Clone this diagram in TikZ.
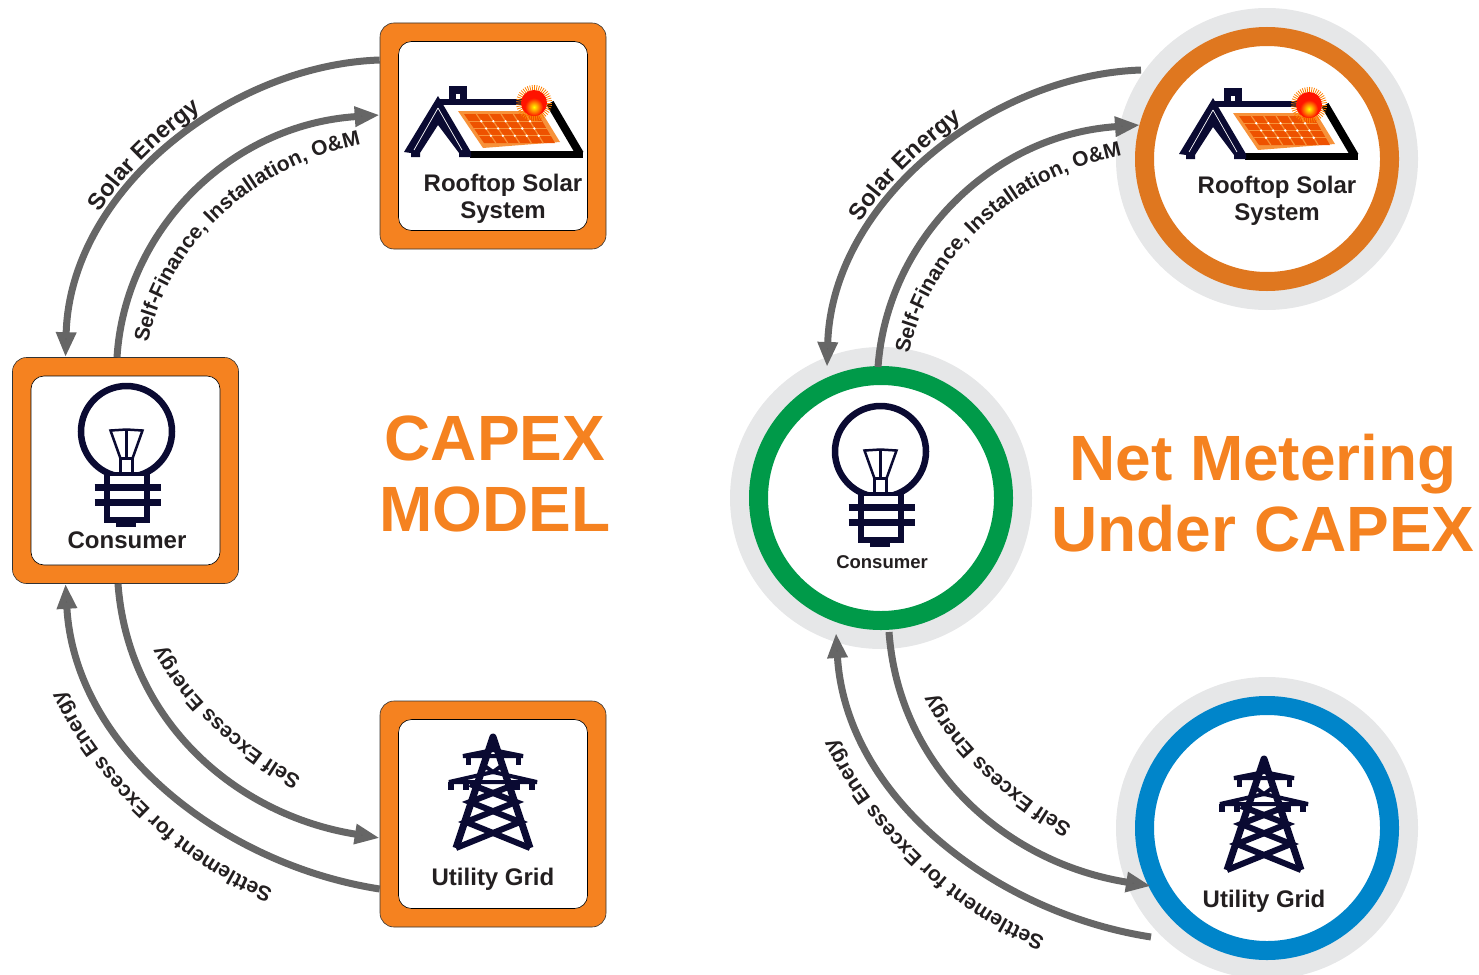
\documentclass[tikz,border=0pt]{standalone}
\usepackage{fontspec}
\setmainfont{Liberation Sans}
\usetikzlibrary{arrows.meta,decorations.text}
\definecolor{boxorange}{HTML}{F58220}
\definecolor{ringorange}{HTML}{DF771F}
\definecolor{ringgreen}{HTML}{009A49}
\definecolor{ringblue}{HTML}{0085CA}
\definecolor{halogray}{HTML}{E6E7E8}
\definecolor{flowgray}{HTML}{666666}
\definecolor{iconnavy}{HTML}{0A0A32}
\definecolor{inkblack}{HTML}{231F20}
\definecolor{panellight}{HTML}{F7923A}
\definecolor{paneldark}{HTML}{EE5200}
\newcommand{\lblfont}{\fontsize{21}{25}\selectfont\bfseries}
\newcommand{\solarfont}{\fontsize{23.5}{28}\selectfont\bfseries}
\tikzset{
	pics/roofIcon/.style={code={
		\fill[iconnavy] (-44,-50) rectangle (-26,-31);
		\fill[white] (-37,-42) rectangle (-33,-37);
		\draw[iconnavy, line width=6] (-55,-34) -- (30,-34);
		\draw[black, line width=8] (57,-33) -- (87,18);
		\draw[black, line width=7] (-23,18) -- (90,18);
		\fill[iconnavy] (-55,-40) -- (-22,16) -- (-22,21) -- (-34,21) -- (-34,17) -- (-55,-11) -- (-73,17) -- (-73,21) -- (-82,21) -- (-82,17) -- (-89,16) -- cycle;
		\draw[white, line width=.7] (-55,-28) -- (-79,14);
		\draw[white, line width=.7] (-55,-28) -- (-31,14);
		\fill[panellight] (-35,-25) -- (48,-25) -- (67,6) -- (-10,12) -- cycle;
		\fill[paneldark] (-29,-22) -- (45,-22) -- (62,7) -- (-9,7) -- cycle;
		\foreach \i in {1,...,5}
			\draw[panellight, line width=1.2] (-29+\i*12.33,-22) -- (-9+\i*11.83,7);
		\foreach \j in {1,2,3} {
			\draw[panellight, line width=1.2] (-29+\j*5,-22+\j*7.25) -- (45+\j*4.25,-22+\j*7.25);
			\foreach \i in {1,...,5}
				\fill[white] (-29+\j*5+\i*12.33-\j*.13*\i,-22+\j*7.25) circle (1.3);
		}
		\foreach \a in {0,8,...,352}
			\draw[orange, line width=.8] (41,-33) -- ++(\a:18);
		\fill[red!85!orange] (41,-33) circle (13);
		\shade[inner color=yellow, outer color=red!85!orange] (41,-29) circle (9);
	}},
	pics/bulbIcon/.style={code={
		\draw[iconnavy, line width=6.5] (1,-39) circle (45.5);
		\fill[white] (-19,3) rectangle (21,49);
		\draw[iconnavy, line width=6] (-19,0) -- (-19,49) -- (21,49) -- (21,0);
		\draw[iconnavy, line width=4] (-19,3) -- (21,3);
		\draw[iconnavy, line width=7] (-31,17) -- (35,17);
		\draw[iconnavy, line width=7] (-31,32) -- (35,32);
		\fill[iconnavy] (-10,46) rectangle (10,56);
		\draw[iconnavy, line width=2.5] (-15,-40) -- (1,-41) -- (17,-40) -- (7,-12) -- (-5,-12) -- cycle;
		\draw[iconnavy, line width=2.5] (1,-41) -- (1,-12);
		\draw[iconnavy, line width=2.5] (-5,-12) rectangle (7,3);
	}},
	pics/gridIcon/.style={code={
		\draw[iconnavy, line width=7, line join=round] (-37,34) -- (0,-77) -- (37,34);
		\draw[iconnavy, line width=4, line join=bevel] (-30,-58) -- (0,-64) -- (30,-58) -- cycle;
		\draw[iconnavy, line width=4, line join=bevel] (-44,-32) -- (0,-42) -- (44,-32) -- cycle;
		\foreach \x in {-25,25}
			\fill[iconnavy] (\x-2.5,-58) rectangle (\x+2.5,-49);
		\foreach \x in {-42,-27,24,39}
			\fill[iconnavy] (\x-3,-32) rectangle (\x+3,-24);
		\draw[iconnavy, line width=4] (-11,-50) -- (0,-42) -- (11,-50);
		\draw[iconnavy, line width=6] (-23,-30) -- (23,-12) -- (-27,8) -- (37,34);
		\draw[iconnavy, line width=6] (23,-30) -- (-23,-12) -- (27,8) -- (-37,34);
	}}
}
\begin{document}
\begin{tikzpicture}[x=1pt, y=-1pt,
	obox/.style={draw=black!80, line width=.6, fill=boxorange, rounded corners=14, minimum size=226, inner sep=0},
	ibox/.style={draw=black, line width=.6, fill=white, rounded corners=13, minimum size=189, inner sep=0},
	halo/.style={circle, fill=halogray, minimum size=302, inner sep=0},
	ring/.style={circle, draw=#1, line width=19, fill=white, minimum size=245, inner sep=0},
	t/.style={text=inkblack, font=\fontsize{24}{27}\selectfont\bfseries, align=center, inner sep=0},
	head/.style={text=boxorange, font=\fontsize{64}{71}\selectfont\bfseries, align=center, inner sep=0},
	flow/.style={draw=flowgray, line width=7, -{Triangle[length=25pt,width=19pt,fill=flowgray!95!black]}},
	lbl/.style={decorate, decoration={text along path, text align=center, text color=inkblack, text={#1}}}]
	\useasboundingbox (0,0) rectangle (1479,974);

	% left side
	\node[obox] (roofL) at (493,136) {};
	\node[ibox] (roofInL) at (roofL) {};
	\node[obox] (userL) at (125.5,470.5) {};
	\node[ibox] (userInL) at (userL) {};
	\node[obox] (gridL) at (493,814) {};
	\node[ibox] (gridInL) at (gridL) {};
	\pic at (roofL) {roofIcon};
	\pic at (userL) {bulbIcon};
	\pic at (gridL) {gridIcon};
	\node[t] (roofTxtL) at (503,198.5) {Rooftop Solar\\System};
	\node[t] (userTxtL) at (127,540) {Consumer};
	\node[t] (gridTxtL) at (493,879) {Utility Grid};
	\node[head] (titleL) at (495,473.5) {CAPEX\\MODEL};

	\draw[flow] ([yshift=76pt]roofL.west) .. controls (230,65) and (70,190) .. ([xshift=-60pt]userL.north);
	\draw[flow] ([xshift=-8.5pt]userL.north) .. controls (125,230) and (230,125) .. ([yshift=21pt]roofL.west);
	\draw[flow] ([xshift=-7.5pt]userL.south) .. controls (128,720) and (235,815) .. ([yshift=-24pt]gridL.west);
	\draw[flow] ([yshift=-75pt]gridL.west) .. controls (225,865) and (75,750) .. ([xshift=-60pt]userL.south);

	\path[lbl={|\solarfont|Solar Energy}] (99,214) .. controls (123,176) and (158,141) .. (203,109);
	\path[lbl={|\lblfont|Self-Finance, Installation, O{\&}M}] (147,348) .. controls (164,253) and (244,168) .. (366,143);
	\path[lbl={|\lblfont|Self Excess Energy}] (304,779) .. controls (245,748) and (185,693) .. (162,643);
	\path[lbl={|\lblfont|Settlement for Excess Energy}] (275,890) .. controls (194,860) and (104,780) .. (62,688);

	% right side
	\node[halo] (roofHaloR) at (1267,159) {};
	\node[ring=ringorange] (roofR) at (roofHaloR) {};
	\node[halo] (userHaloR) at (881,498) {};
	\node[ring=ringgreen] (userR) at (userHaloR) {};
	\node[halo] (gridHaloR) at (1267,828) {};
	\node[ring=ringblue] (gridR) at (gridHaloR) {};
	\pic at (1268,138) {roofIcon};
	\pic at (879.5,490.5) {bulbIcon};
	\pic at (1264,836) {gridIcon};
	\node[t] (roofTxtR) at (1277,200.5) {Rooftop Solar\\System};
	\node[t, font=\fontsize{18.5}{22}\selectfont\bfseries] (userTxtR) at (882,562) {Consumer};
	\node[t] (gridTxtR) at (1264,901) {Utility Grid};
	\node[head] (titleR) at (1263,493) {Net Metering\\Under CAPEX};

	\draw[flow] ([shift={(-126pt,89pt)}]roofR.center) .. controls (992,75) and (832,200) .. ([shift={(-54pt,131pt)}]userR.center);
	\draw[flow] ([shift={(-3pt,131pt)}]userR.center) .. controls (887,240) and (992,135) .. ([shift={(-127pt,34pt)}]roofR.center);
	\draw[flow] ([shift={(8pt,-134pt)}]userR.center) .. controls (899,768) and (1006,863) .. ([shift={(-116pt,-58pt)}]gridR.center);
	\draw[flow] ([shift={(-116pt,-109pt)}]gridR.center) .. controls (996,913) and (846,798) .. ([shift={(-45pt,-135pt)}]userR.center);

	\path[lbl={|\solarfont|Solar Energy}] (860,224) .. controls (884,186) and (919,151) .. (964,119);
	\path[lbl={|\lblfont|Self-Finance, Installation, O{\&}M}] (908,359) .. controls (925,264) and (1005,179) .. (1127,154);
	\path[lbl={|\lblfont|Self Excess Energy}] (1075,827) .. controls (1016,796) and (956,741) .. (933,690);
	\path[lbl={|\lblfont|Settlement for Excess Energy}] (1047,938) .. controls (966,908) and (876,828) .. (834,736);
\end{tikzpicture}
\end{document}
